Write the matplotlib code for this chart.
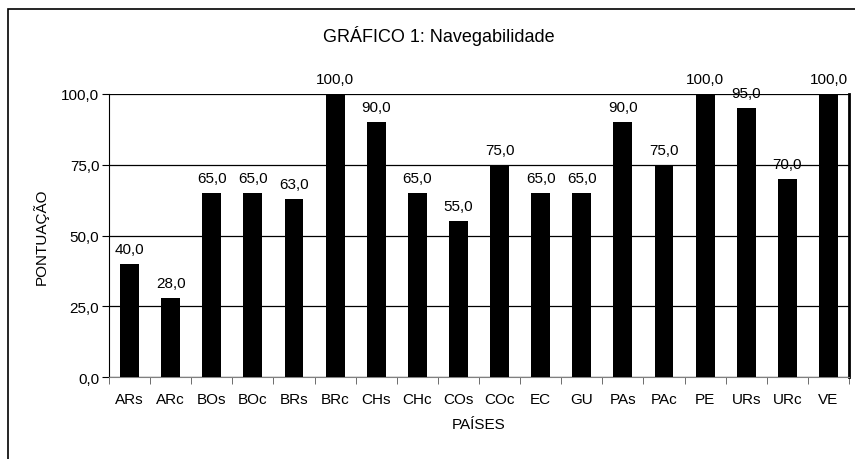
import matplotlib
matplotlib.use('Agg')
import matplotlib.pyplot as plt
from matplotlib.patches import Rectangle

paises = ['ARs', 'ARc', 'BOs', 'BOc', 'BRs', 'BRc', 'CHs', 'CHc', 'COs',
          'COc', 'EC', 'GU', 'PAs', 'PAc', 'PE', 'URs', 'URc', 'VE']
pontuacao = [40, 28, 65, 65, 63, 100, 90, 65, 55,
             75, 65, 65, 90, 75, 100, 95, 70, 100]
yticks = [0, 25, 50, 75, 100]


def fmt(v):
    return f'{v:.1f}'.replace('.', ',')


plt.rcParams['font.family'] = ['Liberation Sans', 'DejaVu Sans']
plt.rcParams['font.size'] = 11

fig = plt.figure(figsize=(8.55, 4.6), dpi=100)
# outer frame (cut off on the right and bottom like the original)
fig.patches.append(Rectangle((8 / 855, -0.05), 1.0, 1 - 10 / 460 + 0.05,
                             transform=fig.transFigure, fill=False,
                             edgecolor='black', linewidth=1.2))

ax = fig.add_axes([109 / 855, 1 - 378 / 460, 740 / 855, 283 / 460])
x = list(range(len(paises)))
ax.bar(x, pontuacao, width=0.46, color='black', zorder=3)
for xi, v in zip(x, pontuacao):
    ax.text(xi, v + 2.8, fmt(v), ha='center', va='bottom', fontsize=11, zorder=4)

ax.set_xlim(-0.5, len(paises) - 0.5)
ax.set_ylim(0, 100)
ax.set_yticks(yticks)
ax.set_yticklabels([fmt(v) for v in yticks])
ax.yaxis.grid(True, color='black', linewidth=0.9, zorder=0)
ax.set_axisbelow(True)

ax.set_xticks(x)
ax.set_xticklabels(paises)
ax.set_xticks([i - 0.5 for i in range(len(paises) + 1)], minor=True)
ax.tick_params(axis='x', which='major', length=0, pad=11)
ax.tick_params(axis='x', which='minor', length=5, color='#555555', direction='out')
ax.tick_params(axis='y', length=5, color='black', direction='out', pad=2)

ax.spines['top'].set_visible(False)
ax.spines['bottom'].set_color('#808080')
ax.spines['left'].set_color('black')
ax.spines['right'].set_linewidth(2)

ax.set_xlabel('PAÍSES', labelpad=8)
ax.set_ylabel('PONTUAÇÃO', labelpad=9)
fig.text(439 / 855, 1 - 36 / 460, 'GRÁFICO 1: Navegabilidade',
         ha='center', va='center', fontsize=13)

fig.savefig('out.png', dpi=100)
